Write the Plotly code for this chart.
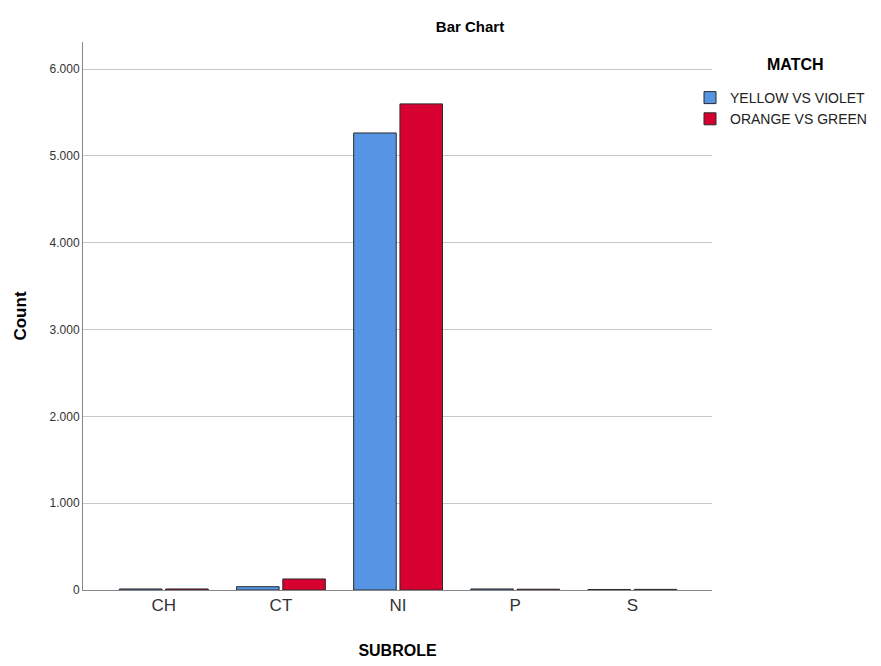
import plotly.graph_objects as go

categories = ["CH", "CT", "NI", "P", "S"]
yellow_vs_violet = [12, 38, 5265, 12, 6]
orange_vs_green = [12, 127, 5600, 9, 7]
series_names = ["YELLOW VS VIOLET", "ORANGE VS GREEN"]
legend_title = "MATCH"
y_tickvals = [0, 1000, 2000, 3000, 4000, 5000, 6000]
y_ticktext = ["0", "1.000", "2.000", "3.000", "4.000", "5.000", "6.000"]

font_family = "Liberation Sans, Arial, sans-serif"
W, H = 873, 658  # page body has an 8px offset
ML, MR, MT, MB = 75, 169, 34, 76

fig = go.Figure()
fig.add_trace(go.Bar(x=categories, y=yellow_vs_violet, name=series_names[0],
                     marker=dict(color="#5595E4", line=dict(color="#2b2b2b", width=1))))
fig.add_trace(go.Bar(x=categories, y=orange_vs_green, name=series_names[1],
                     marker=dict(color="#D60031", line=dict(color="#2b2b2b", width=1))))

fig.add_annotation(text="<b>" + legend_title + "</b>", xref="paper", yref="paper",
                   x=(795 - 8 - ML) / (W - ML - MR), y=1 + (MT - (64 - 8)) / (H - MT - MB),
                   showarrow=False, xanchor="center", yanchor="middle",
                   font=dict(size=16, color="#000"))

fig.update_layout(
    width=W, height=H,
    margin=dict(l=ML, r=MR, t=MT, b=MB, autoexpand=False),
    paper_bgcolor="white", plot_bgcolor="white",
    font=dict(family=font_family, color="#000"),
    barmode="group", bargap=0.21, bargroupgap=0.08,
    title=dict(text="<b>Bar Chart</b>", x=(470 - 8) / W, xanchor="center",
               y=1 - (27 - 8) / H, yanchor="middle", yref="container",
               font=dict(size=15, color="#000")),
    legend=dict(x=(690 - 8) / W, xref="container", xanchor="left",
                y=1 - (82 - 8) / H, yref="container", yanchor="top",
                font=dict(size=14, color="#222"), itemwidth=30, tracegroupgap=0,
                bgcolor="rgba(0,0,0,0)"),
    xaxis=dict(range=[-0.69, 4.68], showgrid=False, showline=True, linecolor="#888", linewidth=1,
               ticks="", tickfont=dict(size=17, color="#333"), automargin=False,
               title=dict(text="<b>SUBROLE</b>", font=dict(size=16), standoff=30)),
    yaxis=dict(range=[0, 6313], tickvals=y_tickvals, ticktext=y_ticktext,
               showgrid=True, gridcolor="#c8c8c8", gridwidth=1, zeroline=False,
               showline=True, linecolor="#888", linewidth=1, ticks="", automargin=False,
               tickfont=dict(size=12, color="#333"),
               title=dict(text="<b>Count</b>", font=dict(size=17), standoff=18)),
)

fig.write_html("out.html")
